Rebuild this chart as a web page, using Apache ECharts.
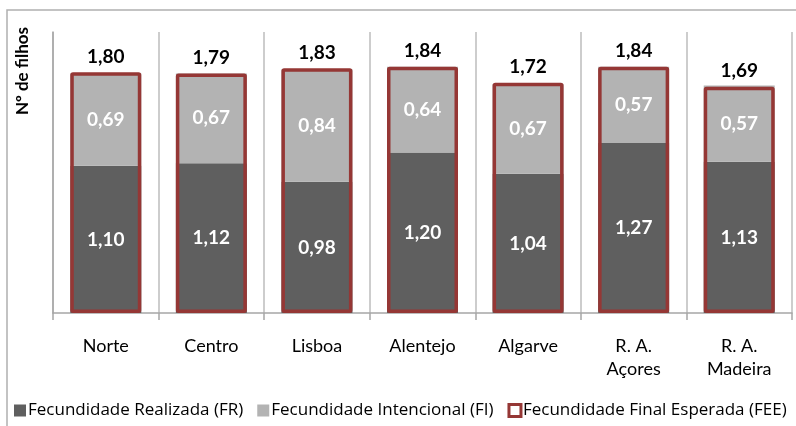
<!DOCTYPE html>
<html>
<head>
<meta charset="utf-8">
<style>
  html, body { margin: 0; padding: 0; background: #fff; }
  #chart { width: 796px; height: 426px; }
</style>
<script src="https://cdn.jsdelivr.net/npm/echarts@6/dist/echarts.min.js"></script>
</head>
<body>
<div id="chart"></div>
<script>
// regions and values
const regions = ['Norte', 'Centro', 'Lisboa', 'Alentejo', 'Algarve', 'R. A.\nAçores', 'R. A.\nMadeira'];
const realizada = [1.10, 1.12, 0.98, 1.20, 1.04, 1.27, 1.13];
const intencional = [0.69, 0.67, 0.84, 0.64, 0.67, 0.57, 0.57];
const finalEsperada = [1.80, 1.79, 1.83, 1.84, 1.72, 1.84, 1.69];

const chart = echarts.init(document.getElementById('chart'));

const font = 'Lato, "Noto Sans", sans-serif';
const fmt = p => p.value.toFixed(2).replace('.', ',');

const option = {
  animation: false,
  textStyle: { fontFamily: font },
  grid: { top: 32, left: 53, right: 4, bottom: 113 },
  graphic: [
    {
      type: 'rect',
      shape: { x: 7, y: 10, width: 800, height: 430 },
      style: { fill: 'none', stroke: '#b0b0b0', lineWidth: 1.5 },
      silent: true
    },
    {
      type: 'text',
      x: 23, y: 71,
      rotation: Math.PI / 2,
      style: {
        text: 'Nº de filhos',
        fontFamily: 'Lato',
        fontWeight: 'bold',
        fontSize: 17,
        fill: '#000',
        align: 'center',
        verticalAlign: 'middle'
      }
    }
  ],
  legend: {
    left: 9,
    top: 397,
    itemWidth: 12,
    itemHeight: 12,
    itemGap: 14,
    textStyle: { fontSize: 17, color: '#000', fontFamily: '"Open Sans"', padding: [0, 0, 0, -3] },
    data: [
      { name: 'Fecundidade Realizada (FR)', icon: 'rect' },
      { name: 'Fecundidade Intencional (FI)', icon: 'rect' },
      { name: 'Fecundidade Final Esperada (FEE)', icon: 'rect',
        itemStyle: { color: '#fff', borderColor: '#953735', borderWidth: 3 } }
    ]
  },
  xAxis: {
    type: 'category',
    data: regions,
    axisLine: { lineStyle: { color: '#a6a6a6', width: 1.5 } },
    axisTick: { show: true, length: 7, lineStyle: { color: '#a6a6a6', width: 1.5 } },
    splitLine: { show: true, lineStyle: { color: '#bdbdbd', width: 1.5 } },
    axisLabel: { fontSize: 18, color: '#000', margin: 22, lineHeight: 23, interval: 0 }
  },
  yAxis: {
    type: 'value',
    min: 0,
    max: 2.1,
    axisLine: { show: true, lineStyle: { color: '#a6a6a6', width: 1.5 } },
    axisTick: { show: false },
    axisLabel: { show: false },
    splitLine: { show: false }
  },
  series: [
    {
      name: 'Fecundidade Realizada (FR)',
      type: 'bar',
      stack: 'f',
      barWidth: 71,
      data: realizada,
      itemStyle: { color: '#5f5f5f' },
      label: { show: true, position: 'inside', color: '#fff', fontWeight: 'bold', fontSize: 19, formatter: fmt }
    },
    {
      name: 'Fecundidade Intencional (FI)',
      type: 'bar',
      stack: 'f',
      barWidth: 71,
      data: intencional,
      itemStyle: { color: '#b3b3b3' },
      label: { show: true, position: 'inside', color: '#fff', fontWeight: 'bold', fontSize: 19, formatter: fmt }
    },
    {
      name: 'Fecundidade Final Esperada (FEE)',
      type: 'bar',
      barWidth: 71,
      barGap: '-100%',
      z: 3,
      data: finalEsperada,
      itemStyle: { color: 'rgba(0,0,0,0)', borderColor: '#953735', borderWidth: 3.5, borderRadius: 1 },
      label: { show: true, position: 'top', distance: 6, color: '#000', fontWeight: 'bold', fontSize: 19, formatter: fmt }
    }
  ]
};

chart.setOption(option);
</script>
</body>
</html>
